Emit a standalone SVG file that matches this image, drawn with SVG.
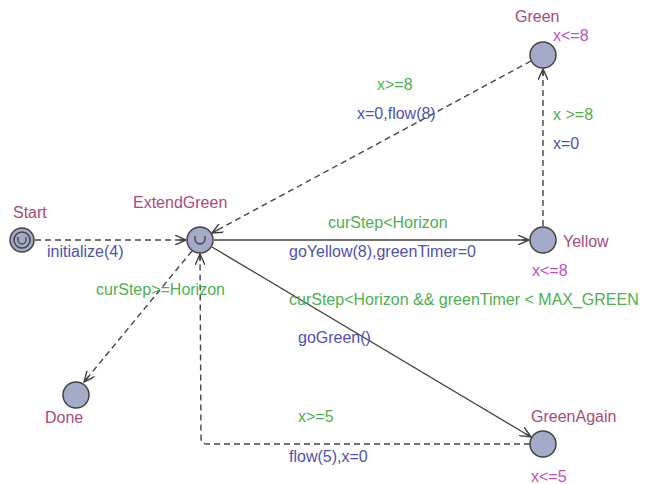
<svg xmlns="http://www.w3.org/2000/svg" width="648" height="484" viewBox="0 0 648 484">
<defs>
<marker id="arr" viewBox="0 0 12 10" refX="11" refY="5" markerWidth="12" markerHeight="10" markerUnits="userSpaceOnUse" orient="auto">
<path d="M0,0 L11,5 L0,10 M11,5 L4,5" fill="none" stroke="#404040" stroke-width="1.4"/>
</marker>
<style>
text{font-family:"Liberation Sans",Arial,sans-serif;font-size:16px}
.loc{fill:#a84a78}
.inv{fill:#c050c0}
.grd{fill:#4cb050}
.upd{fill:#5050b0}
.node{fill:#a3abc9;stroke:#444;stroke-width:1.5}
.e{fill:none;stroke:#444;stroke-width:1.4}
.d{stroke-dasharray:6,4}
</style>
</defs>
<rect width="648" height="484" fill="#fff"/>
<g id="edges">
<line class="e d" x1="35" y1="240" x2="186" y2="240" marker-end="url(#arr)"/>
<line class="e" x1="214" y1="240" x2="529" y2="240" marker-end="url(#arr)"/>
<line class="e d" x1="543" y1="226" x2="543" y2="69" marker-end="url(#arr)"/>
<line class="e d" x1="531" y1="61" x2="212" y2="233" marker-end="url(#arr)"/>
<line class="e d" x1="192" y1="251" x2="84" y2="382" marker-end="url(#arr)"/>
<line class="e" x1="212" y1="247" x2="531" y2="437" marker-end="url(#arr)"/>
<path class="e d" d="M530,444 L207,444 Q201,444 201,438 L200,254" marker-end="url(#arr)"/>
</g>
<g id="Start">
<circle class="node" cx="22" cy="240" r="12"/>
<circle class="node" cx="22" cy="240" r="8"/>
<path d="M18,237 v3 a4,4 0 0 0 8,0 v-3" fill="none" stroke="#444" stroke-width="1.3"/>
<text class="loc" x="13" y="218">Start</text>
</g>
<g id="ExtendGreen">
<circle class="node" cx="200" cy="240" r="13"/>
<path d="M195,236 v3 a5,5 0 0 0 10,0 v-3" fill="none" stroke="#444" stroke-width="1.4"/>
<text class="loc" x="133" y="208">ExtendGreen</text>
</g>
<g id="Green">
<circle class="node" cx="543" cy="55" r="13"/>
<text class="loc" x="515" y="22">Green</text>
<text class="inv" x="553" y="41">x&lt;=8</text>
</g>
<g id="Yellow">
<circle class="node" cx="543" cy="240" r="13"/>
<text class="loc" x="563" y="247">Yellow</text>
<text class="inv" x="532" y="276">x&lt;=8</text>
</g>
<g id="Done">
<circle class="node" cx="76" cy="395" r="13"/>
<text class="loc" x="45" y="423">Done</text>
</g>
<g id="GreenAgain">
<circle class="node" cx="543" cy="444" r="13"/>
<text class="loc" x="531" y="422">GreenAgain</text>
<text class="inv" x="531" y="482">x&lt;=5</text>
</g>
<g id="labels">
<text class="upd" x="47" y="257">initialize(4)</text>
<text class="grd" x="328" y="228">curStep&lt;Horizon</text>
<text class="upd" x="289" y="257">goYellow(8),greenTimer=0</text>
<text class="grd" x="553" y="120">x &gt;=8</text>
<text class="upd" x="553" y="149">x=0</text>
<text class="grd" x="377" y="90">x&gt;=8</text>
<text class="upd" x="357" y="119">x=0,flow(8)</text>
<text class="grd" x="96" y="295">curStep&gt;=Horizon</text>
<text class="grd" x="289" y="305">curStep&lt;Horizon &amp;&amp; greenTimer &lt; MAX_GREEN</text>
<text class="upd" x="298" y="343">goGreen()</text>
<text class="grd" x="298" y="422">x&gt;=5</text>
<text class="upd" x="289" y="462">flow(5),x=0</text>
</g>
</svg>
